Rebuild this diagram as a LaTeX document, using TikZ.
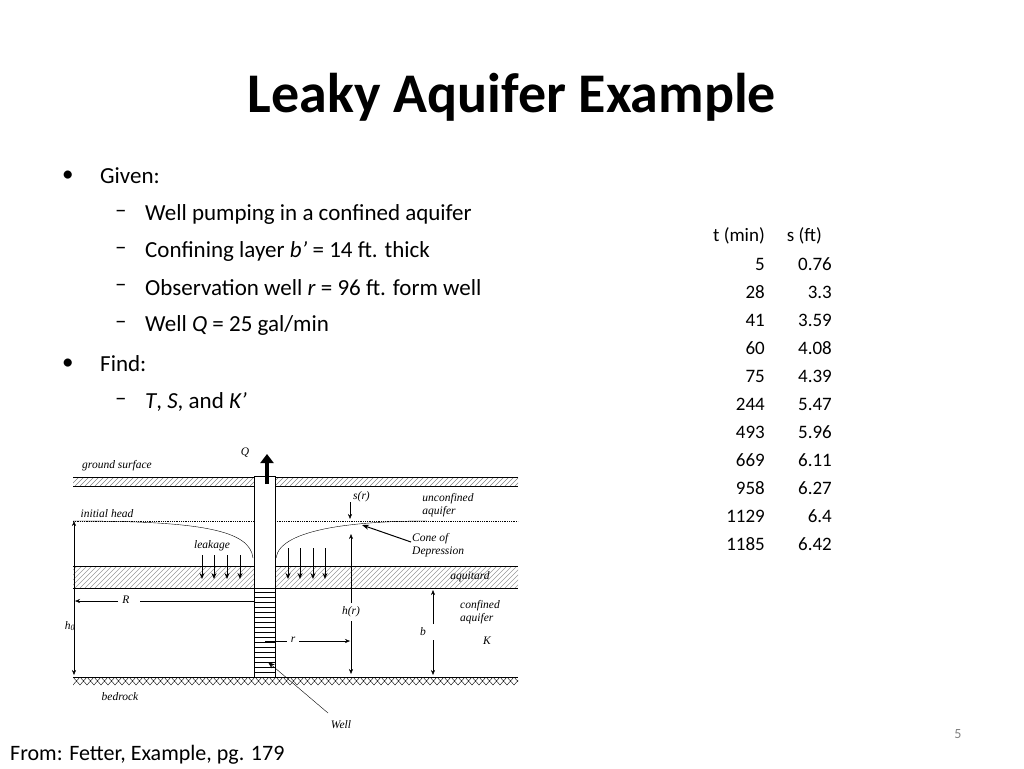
\documentclass[tikz,border=0pt]{standalone}
\usepackage{fontspec}
\usetikzlibrary{arrows.meta}
\setmainfont{Carlito}
\newfontfamily\tms{Liberation Serif}
\begin{document}
\begin{tikzpicture}[x=1pt,y=-1pt,
  lab/.style={font=\tms\itshape\fontsize{11.5}{13}\selectfont,inner sep=0pt,align=left},
  arr/.style={-{Stealth[length=5pt,width=4pt]},thin},
  darr/.style={{Stealth[length=5pt,width=4pt]}-{Stealth[length=5pt,width=4pt]},thin},
  body/.style={font=\fontsize{23}{26}\selectfont,anchor=west,inner sep=0pt},
  tb/.style={font=\fontsize{19}{22}\selectfont,anchor=east,inner sep=0pt}]
\useasboundingbox (0,0) rectangle (1024,768);
\node[font=\bfseries\fontsize{56}{60}\selectfont] (title) at (512,97) {Leaky Aquifer Example};
\node[body] (b1) at (62,176) {•};
\node[body] (g) at (100,176) {Given:};
\node[body] (d1) at (115,214) {–};
\node[body] (t1) at (145,214) {Well pumping in a confined aquifer};
\node[body] (d2) at (115,251) {–};
\node[body] (t2) at (145,251) {Confining layer \textit{b’} = 14 ft. thick};
\node[body] (d3) at (115,288) {–};
\node[body] (t3) at (145,288) {Observation well \textit{r} = 96 ft. form well};
\node[body] (d4) at (115,325) {–};
\node[body] (t4) at (145,325) {Well \textit{Q} = 25 gal/min};
\node[body] (b2) at (62,364) {•};
\node[body] (f) at (100,364) {Find:};
\node[body] (d5) at (115,402) {–};
\node[body] (t5) at (145,402) {\textit{T}, \textit{S}, and \textit{K’}};
\node[font=\fontsize{22}{24}\selectfont,anchor=west,inner sep=0pt] (from) at (10,755) {From: Fetter, Example, pg. 179};
\node[font=\fontsize{14}{16}\selectfont,text=gray] (pg) at (958,734) {5};
% table
\node[tb] (h1) at (765,236) {t (min)};
\node[tb] (h2) at (822,236) {s (ft)};
\foreach \t/\s [count=\i] in {5/0.76,28/3.3,41/3.59,60/4.08,75/4.39,244/5.47,493/5.96,669/6.11,958/6.27,1129/6.4,1185/6.42}{
  \node[tb] (tt\i) at (765,236+28*\i) {\t};
  \node[tb] (ss\i) at (832,236+28*\i) {\s};
}
% ground band
\begin{scope}
\clip (73,477) rectangle (518,486);
\foreach \x in {60,65,...,530} \draw[gray,thin] (\x,486) -- (\x+9,477);
\end{scope}
\draw[thin] (73,477) -- (254,477) (275,477) -- (518,477);
\draw[thin] (73,486) -- (518,486);
% aquitard
\begin{scope}
\clip (73,566) rectangle (518,588);
\foreach \x in {40,45,...,530} \draw[gray!80,thin] (\x,588) -- (\x+22,566);
\end{scope}
\draw[thick] (73,566) -- (518,566) (73,588) -- (518,588);
% well
\fill[white] (254,476) rectangle (275,588);
\draw[thin] (254,476) rectangle (275,677);
\foreach \y in {592,597,...,675} \draw[thin] (254,\y) -- (275,\y);
\draw[thin] (254,588) -- (275,588);
% initial head
\draw[densely dotted,thick] (73,521) -- (254,521) (275,521) -- (518,521);
% bedrock
\draw[thick] (73,677) -- (518,677);
\begin{scope}
\clip (73,677) rectangle (518,685);
\foreach \x in {66,73,...,525} \draw[thin] (\x,677) -- (\x+7,685) (\x+7,677) -- (\x,685);
\end{scope}
% cone
\draw[thin] (73,521) .. controls (200,521) and (250,530) .. (253,558);
\draw[thin] (276,558) .. controls (280,528) and (360,521) .. (427,521);
% Q arrow
\draw[line width=3.5pt,-{Triangle[length=9pt,width=13pt]}] (267,484) -- (267,454);
\node[lab] (Q) at (245,453) {Q};
% labels
\node[lab] (gs) at (117,466) {ground surface};
\node[lab] (ih) at (107,514) {initial head};
\node[lab] (ua) at (448,505) {unconfined\\aquifer};
\node[lab,anchor=west] (sr) at (353,497) {\textit{s}(\textit{r})};
\node[lab] (lk) at (212,546) {leakage};
\node[lab,anchor=west] (cd) at (412,545) {Cone of\\Depression};
\node[lab] (aq) at (470,577) {aquitard};
\node[lab,anchor=west] (ca) at (460,612) {confined\\aquifer};
\node[lab] (K) at (487,641) {K};
\node[lab] (bd) at (120,697) {bedrock};
\node[lab] (wl) at (341,725) {Well};
\node[lab,fill=white,inner sep=1pt] (hr) at (351,612) {\textit{h}(\textit{r})};
\node[lab] (h0) at (70,626) {h\textsubscript{\textit{0}}};
\node[lab,fill=white,inner sep=1pt] (bb) at (423,632) {b};
% dimension arrows
\coordinate (h0t) at (74,521); \coordinate (h0b) at (74,675);
\draw[darr] (h0t) -- (h0b);
\coordinate (Rw) at (255,601); \coordinate (Re) at (75,601);
\draw[thin] (Rw) -- (140,601);
\draw[arr] (118,601) -- (Re);
\node[lab] (R) at (126,600) {R};
\coordinate (rw) at (265,641); \coordinate (re) at (350,641);
\draw[thin] (rw) -- (287,641);
\draw[arr] (299,641) -- (re);
\node[lab] (rl) at (293,640) {r};
\draw[arr] (351,603) -- (351,534);
\draw[arr] (351,621) -- (351,674);
\draw[arr] (433,624) -- (433,590);
\draw[arr] (433,640) -- (433,675);
\coordinate (s1) at (350,502); \coordinate (s2) at (350,519);
\draw[arr] (s1) -- (s2);
% leakage arrows
\foreach \x in {202,214,227,240} \draw[line width=1pt,-{Stealth[length=6pt,width=5pt]}] (\x,555) -- (\x,579);
\foreach \x in {288,300,313,325} \draw[line width=1pt,-{Stealth[length=6pt,width=5pt]}] (\x,548) -- (\x,579);
% pointers
\draw[line width=1pt,-{Stealth[length=7pt,width=5pt]}] (411,542) -- (362,525);
\draw[thin,-{Stealth[length=7pt,width=5pt]}] (328,713) -- (268,662);
\end{tikzpicture}
\end{document}
